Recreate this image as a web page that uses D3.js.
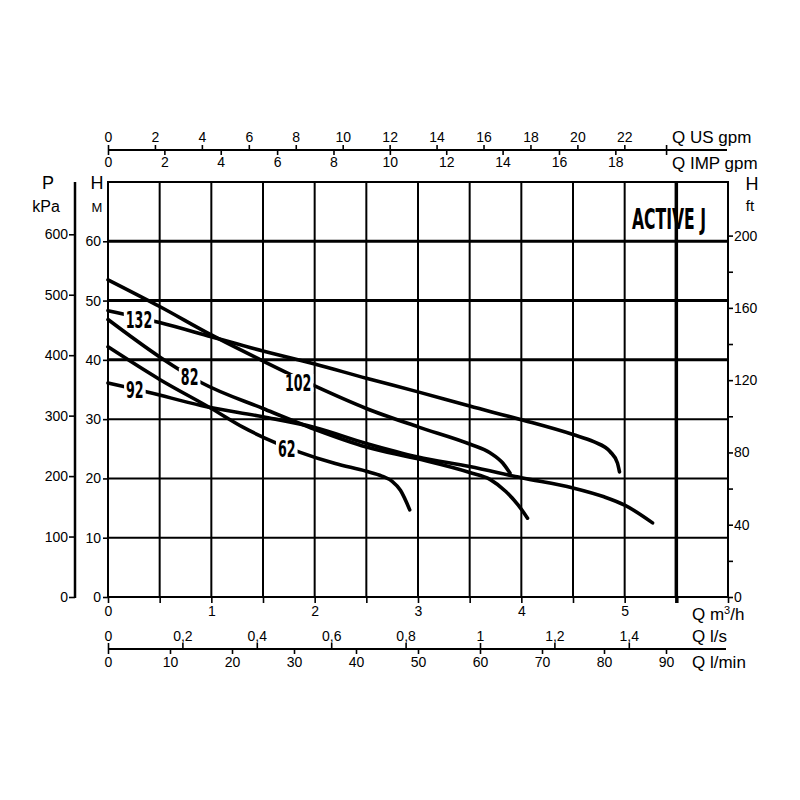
<!DOCTYPE html>
<html><head><meta charset="utf-8">
<script src="https://cdn.jsdelivr.net/npm/d3@7"></script>
<style>body{margin:0;background:#fff}</style>
</head><body><svg id="c" width="800" height="800"></svg>
<script>
// ---------- data ----------
const curveNames = ["132", "102", "82", "92", "62"];
const q132 = [0, 0.5, 1.0, 1.5, 2.0, 2.5, 3.0, 3.5, 4.0, 4.5, 4.7, 4.86, 4.93, 4.95];
const h132 = [48.3, 46.3, 43.9, 41.5, 39.3, 36.9, 34.6, 32.2, 29.9, 27.4, 26.2, 24.5, 22.6, 21.1];
const q102 = [0, 0.5, 1.0, 1.5, 2.0, 2.5, 3.0, 3.5, 3.7, 3.82, 3.89];
const h102 = [53.5, 49.0, 44.2, 39.8, 35.6, 31.8, 28.7, 25.8, 24.3, 22.6, 20.9];
const q82 = [0, 0.5, 0.91, 1.5, 2.0, 2.5, 3.0, 3.5, 3.7, 3.85, 3.97, 4.06];
const h82 = [46.8, 40.5, 36.1, 31.8, 28.3, 25.3, 23.3, 21.0, 19.8, 17.8, 15.5, 13.3];
const q92 = [0, 0.4, 0.9, 1.5, 2.0, 2.5, 3.0, 3.5, 4.0, 4.5, 4.8, 5.0, 5.27];
const h92 = [36.1, 34.5, 32.3, 30.4, 28.6, 25.9, 23.6, 22.0, 20.1, 18.4, 16.9, 15.5, 12.5];
const q62 = [0, 0.5, 1.0, 1.31, 1.86, 2.2, 2.5, 2.65, 2.75, 2.83, 2.92];
const h62 = [42.2, 36.7, 31.8, 28.6, 24.4, 22.5, 21.2, 20.4, 19.5, 18.0, 14.7];
const labelQ = [0.30, 1.84, 0.79, 0.26, 1.73];
const labelH = [46.8, 36.1, 37.1, 35.0, 24.9];

const title = "ACTIVE J";
const hTicks = [0, 10, 20, 30, 40, 50, 60];
const kPaTicks = [0, 100, 200, 300, 400, 500, 600];
const ftTicks = [0, 20, 40, 60, 80, 100, 120, 140, 160, 180, 200];
const m3hTicks = [0, 0.5, 1, 1.5, 2, 2.5, 3, 3.5, 4, 4.5, 5, 5.5, 6];
const usGpmTicks = [0, 2, 4, 6, 8, 10, 12, 14, 16, 18, 20, 22];
const impGpmTicks = [0, 2, 4, 6, 8, 10, 12, 14, 16, 18];
const lsTicks = [0, 0.2, 0.4, 0.6, 0.8, 1, 1.2, 1.4];
const lminTicks = [0, 10, 20, 30, 40, 50, 60, 70, 80, 90];

// ---------- setup ----------
const svg = d3.select("#c");
svg.append("rect").attr("width", 800).attr("height", 800).attr("fill", "#fff");
const FONT = "'Liberation Sans', Arial, Helvetica, sans-serif";
const NARROW = "'Liberation Sans Narrow', 'DejaVu Sans Condensed', 'Liberation Sans', sans-serif";

const x = d3.scaleLinear().domain([0, 6]).range([108, 728]);
const y = d3.scaleLinear().domain([0, 70]).range([597, 182]);
const yP = d3.scaleLinear().domain([0, 70 / 0.10197]).range([597, 182]);
const yF = d3.scaleLinear().domain([0, 70 / 0.3048]).range([597, 182]);
const xUS = d3.scaleLinear().domain([0, 6 / 0.2271247]).range([108, 728]);
const xIMP = d3.scaleLinear().domain([0, 6 / 0.2727654]).range([108, 728]);
const xLs = d3.scaleLinear().domain([0, 6 / 3.6]).range([108, 728]);
const xLmin = d3.scaleLinear().domain([0, 100]).range([108, 728]);

// ---------- grid ----------
const g = svg.append("g");
m3hTicks.filter(d => d > 0 && d < 6).forEach(d => {
  g.append("line").attr("x1", x(d)).attr("x2", x(d)).attr("y1", y(0)).attr("y2", y(70))
    .attr("stroke", "#000").attr("stroke-width", d === 5.5 ? 3.5 : 2);
});
hTicks.filter(d => d > 0).forEach(d => {
  g.append("line").attr("x1", x(0)).attr("x2", x(6)).attr("y1", y(d)).attr("y2", y(d))
    .attr("stroke", "#000").attr("stroke-width", d >= 40 ? 3 : 2);
});
// frame
g.append("rect").attr("x", x(0)).attr("y", y(70)).attr("width", x(6) - x(0)).attr("height", y(0) - y(70))
  .attr("fill", "none").attr("stroke", "#000").attr("stroke-width", 2);

function styleAxis(sel, size) {
  sel.select(".domain").remove();
  sel.selectAll(".tick line").attr("stroke", "#000").attr("stroke-width", 1.6);
  sel.selectAll(".tick text").attr("fill", "#000").style("font-family", FONT).style("font-size", (size || 14) + "px");
}

// ---------- left H axis ----------
svg.append("g").attr("transform", `translate(${x(0)},0)`)
  .call(d3.axisLeft(y).tickValues(hTicks).tickSize(5).tickPadding(2))
  .call(s => styleAxis(s));
// ---------- P kPa axis ----------
svg.append("line").attr("x1", 75).attr("x2", 75).attr("y1", 182).attr("y2", 598)
  .attr("stroke", "#000").attr("stroke-width", 2.5);
svg.append("g").attr("transform", "translate(75,0)")
  .call(d3.axisLeft(yP).tickValues(kPaTicks).tickSize(6).tickPadding(1))
  .call(s => styleAxis(s));
// ---------- right ft axis ----------
svg.append("g").attr("transform", `translate(${x(6)},0)`)
  .call(d3.axisRight(yF).tickValues(ftTicks).tickSize(5).tickPadding(1)
    .tickFormat(d => d % 40 === 0 ? d : ""))
  .call(s => styleAxis(s));

// ---------- bottom m3/h axis ----------
svg.append("g").attr("transform", `translate(0,${y(0)})`)
  .call(d3.axisBottom(x).tickValues(m3hTicks).tickSize(6).tickPadding(3)
    .tickFormat(d => Number.isInteger(d) && d < 6 ? d : ""))
  .call(s => styleAxis(s))
  .call(s => s.selectAll(".tick line").filter(d => d === 5.5).attr("stroke-width", 3.5));

// ---------- l/s and l/min axis ----------
const yL = 649;
svg.append("line").attr("x1", 108).attr("x2", 726).attr("y1", yL).attr("y2", yL)
  .attr("stroke", "#000").attr("stroke-width", 2);
svg.append("g").attr("transform", `translate(0,${yL})`)
  .call(d3.axisTop(xLs).tickValues(lsTicks).tickSize(6).tickPadding(2)
    .tickFormat(d => String(d).replace(".", ",")))
  .call(s => styleAxis(s));
svg.append("g").attr("transform", `translate(0,${yL})`)
  .call(d3.axisBottom(xLmin).tickValues(lminTicks).tickSize(5).tickPadding(3))
  .call(s => styleAxis(s));

// ---------- top gpm axes ----------
const yT = 150;
svg.append("line").attr("x1", 108).attr("x2", 727).attr("y1", yT).attr("y2", yT)
  .attr("stroke", "#000").attr("stroke-width", 2);
svg.append("line").attr("x1", xUS(23.8)).attr("x2", xUS(23.8)).attr("y1", yT - 5).attr("y2", yT + 5)
  .attr("stroke", "#000").attr("stroke-width", 1.6);
svg.append("g").attr("transform", `translate(0,${yT})`)
  .call(d3.axisTop(xUS).tickValues(usGpmTicks).tickSize(5).tickPadding(3))
  .call(s => styleAxis(s));
svg.append("g").attr("transform", `translate(0,${yT})`)
  .call(d3.axisBottom(xIMP).tickValues(impGpmTicks).tickSize(5).tickPadding(2))
  .call(s => styleAxis(s));

// ---------- axis titles ----------
function txt(tx, ty, s, size, anchor) {
  return svg.append("text").attr("x", tx).attr("y", ty).text(s).attr("fill", "#000")
    .style("font-family", FONT).style("font-size", size + "px").attr("text-anchor", anchor || "start");
}
txt(672, 143, "Q US gpm", 17);
txt(672, 169, "Q IMP gpm", 17);
const m3 = svg.append("text").attr("x", 692).attr("y", 620).attr("fill", "#000")
  .style("font-family", FONT).style("font-size", "17px");
m3.append("tspan").text("Q m");
m3.append("tspan").text("3").attr("dy", -6).style("font-size", "11px");
m3.append("tspan").text("/h").attr("dy", 6);
txt(692, 642, "Q l/s", 17);
txt(692, 668, "Q l/min", 17);
txt(48, 189, "P", 18, "middle");
txt(46, 212, "kPa", 16, "middle");
txt(97, 189, "H", 18, "middle");
txt(97, 212, "M", 13, "middle");
txt(752, 190, "H", 18, "middle");
txt(750, 211, "ft", 15, "middle");

// ---------- curves ----------
const series = [[q132, h132], [q102, h102], [q82, h82], [q92, h92], [q62, h62]];
const line = d3.line().x(d => x(d[0])).y(d => y(d[1])).curve(d3.curveMonotoneX);
series.forEach(([qs, hs]) => {
  svg.append("path").datum(qs.map((q, i) => [q, hs[i]])).attr("d", line)
    .attr("fill", "none").attr("stroke", "#000").attr("stroke-width", 3.6)
    .attr("stroke-linecap", "round").attr("stroke-linejoin", "round");
});
// curve labels
curveNames.forEach((n, i) => {
  const cx = x(labelQ[i]), cy = y(labelH[i]);
  const w = n.length * 8.8;
  svg.append("rect").attr("x", cx - w / 2 - 2).attr("y", cy - 9).attr("width", w + 4).attr("height", 18).attr("fill", "#fff");
  svg.append("text").attr("x", cx - w / 2).attr("y", cy + 8).text(n)
    .attr("textLength", w).attr("lengthAdjust", "spacingAndGlyphs")
    .style("font-family", NARROW).style("font-weight", "bold").style("font-size", "23px").attr("fill", "#000");
});

// ---------- title ----------
svg.append("text").attr("x", 632).attr("y", 229).text(title)
  .attr("textLength", 74).attr("lengthAdjust", "spacingAndGlyphs")
  .style("font-family", NARROW).style("font-weight", "bold").style("font-size", "29px").attr("fill", "#000");
</script></body></html>
